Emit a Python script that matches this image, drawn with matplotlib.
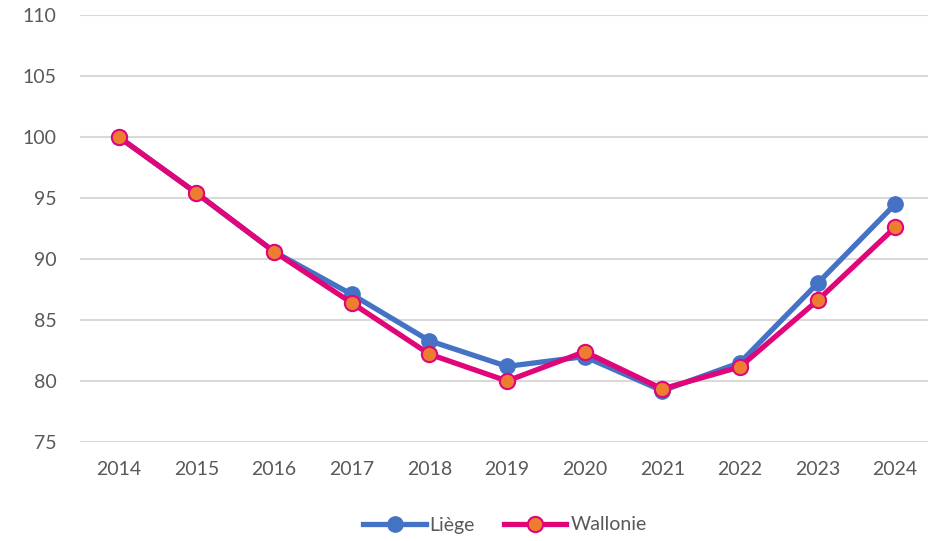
import matplotlib
matplotlib.use("Agg")
import matplotlib.pyplot as plt

years = ["2014", "2015", "2016", "2017", "2018", "2019", "2020", "2021", "2022", "2023", "2024"]
liege = [100.0, 95.4, 90.6, 87.1, 83.3, 81.2, 82.0, 79.2, 81.5, 88.0, 94.5]
wallonie = [100.0, 95.4, 90.6, 86.4, 82.2, 80.0, 82.4, 79.35, 81.15, 86.6, 92.6]
yticks = [75, 80, 85, 90, 95, 100, 105, 110]

plt.rcParams['font.family'] = ['Lato', 'DejaVu Sans']
text_color = '#595959'

fig = plt.figure(figsize=(9.29, 5.41), dpi=100)
ax = fig.add_axes([80/929, 1-442/541, (934-80)/929, (442-15)/541])

x = list(range(len(years)))
ax.plot(x, liege, color='#4472C4', lw=3.8, marker='o', ms=11,
        markerfacecolor='#4472C4', markeredgecolor='#4472C4', label='Liège', zorder=3)
ax.plot(x, wallonie, color='#E0067A', lw=3.8, marker='o', ms=11,
        markerfacecolor='#ED7D31', markeredgecolor='#E0067A', markeredgewidth=1.5,
        label='Wallonie', zorder=4)

ax.set_ylim(75, 110)
ax.set_yticks(yticks)
ax.set_xlim(-0.5, 10.5)
ax.set_xticks(x)
ax.set_xticklabels(years)
ax.yaxis.grid(True, color='#D9D9D9', lw=1.5)
ax.set_axisbelow(True)
for s in ax.spines.values():
    s.set_visible(False)
ax.tick_params(axis='both', length=0, labelsize=14, colors=text_color)
ax.tick_params(axis='y', pad=17)
ax.tick_params(axis='x', pad=14)

leg = ax.legend(loc='center', bbox_to_anchor=(505/929, 1-525/541), bbox_transform=fig.transFigure,
                ncol=2, frameon=False, fontsize=14, handlelength=3.2, columnspacing=1.5,
                handletextpad=0.2)
for t in leg.get_texts():
    t.set_color(text_color)

fig.savefig('out.png', dpi=100)
